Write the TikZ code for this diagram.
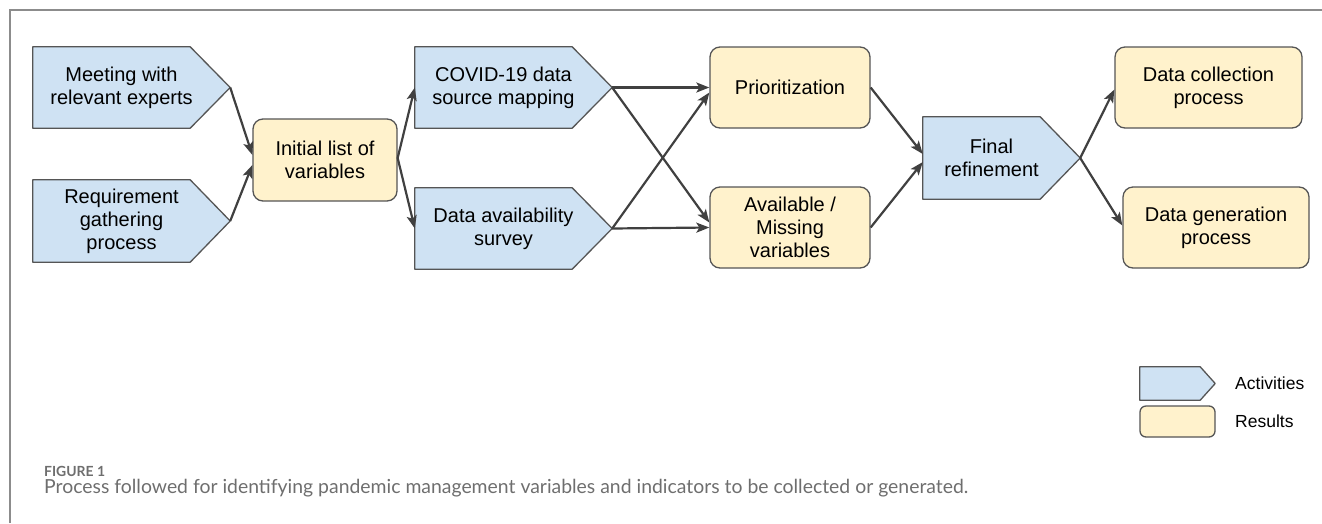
\documentclass[tikz,border=0pt]{standalone}
\usepackage{fontspec}
\usepackage{graphicx}
\setmainfont{Liberation Sans}
\newfontfamily\capfont{Lato}
\usetikzlibrary{arrows.meta}
\definecolor{actfill}{HTML}{CFE2F3}
\definecolor{resfill}{HTML}{FFF2CC}
\definecolor{edgec}{HTML}{555555}
\definecolor{arrowc}{HTML}{404040}
\definecolor{framec}{HTML}{8C8C8C}
\definecolor{capc}{HTML}{6E6E6E}
\tikzset{
  boxtext/.style={font=\fontsize{20}{23}\selectfont, text=black, align=center, inner sep=0pt},
  actarea/.style={rectangle, inner sep=0pt, minimum height=81pt},
  actshape/.style={draw=edgec, fill=actfill, line width=1.3pt, line join=round},
  res/.style={boxtext, rectangle, rounded corners=10pt, draw=edgec,
    fill=resfill, line width=1.3pt, minimum height=81pt},
  flow/.style={draw=arrowc, line width=2.2pt,
    -{Stealth[length=13pt,width=10pt,inset=3pt]}},
  legtext/.style={font=\fontsize{17.5}{20}\selectfont, anchor=west, inner sep=0pt},
  captext/.style={anchor=base west, inner sep=0pt, text=capc}
}
% activity: name, centre, width, height, pointer length, text
\newcommand\activity[6]{%
  \node[actarea, minimum width=#3, minimum height=#4] (#1) at (#2) {};
  \draw[actshape] (#1.north west) -- ([xshift=-#5]#1.north east) -- (#1.east)
    -- ([xshift=-#5]#1.south east) -- (#1.south west) -- cycle;
  \node[boxtext] (#1-text) at ([xshift=-10pt]#1.center) {#6};
}
\begin{document}
\begin{tikzpicture}[x=1pt,y=-1pt]
\useasboundingbox (0,0) rectangle (1322,523);
% frame
\draw[framec, line width=1.5pt] (10,523) -- (10,10) -- (1322,10);

% activities and results
\activity{meet}{131.5,87.5}{197pt}{81pt}{40pt}{Meeting with\\relevant experts}
\activity{req}{131.5,221}{197pt}{82pt}{40pt}{Requirement\\gathering\\process}
\node[res, minimum width=144pt, minimum height=82pt] (init) at (325,160) {Initial list of\\variables};
\activity{covid}{513.5,87.5}{197pt}{81pt}{40pt}{COVID-19 data\\source mapping}
\activity{avail}{513.5,228.5}{197pt}{81pt}{40pt}{Data availability\\survey}
\node[res, minimum width=160pt] (prio) at (790,87.5) {Prioritization};
\node[res, minimum width=160pt] (miss) at (790,227.5) {Available /\\Missing\\variables};
\activity{final}{1001.5,158}{157pt}{82pt}{40pt}{Final\\refinement}
\node[res, minimum width=187pt] (coll) at (1208.5,87.5) {Data collection\\process};
\node[res, minimum width=186pt] (gen)  at (1216,227.5) {Data generation\\process};

% connectors
\draw[flow] (meet.east) -- ([yshift=5pt]init.west);
\draw[flow] (req.east) -- ([yshift=-5pt]init.west);
\draw[flow] ([yshift=2pt]init.east) -- (covid.west);
\draw[flow] ([yshift=2pt]init.east) -- (avail.west);
\draw[flow] (covid.east) -- (prio.west);
\draw[flow] (covid.east) -- ([yshift=5pt]miss.west);
\draw[flow] (avail.east) -- ([yshift=-5pt]prio.west);
\draw[flow] (avail.east) -- (miss.west);
\draw[flow] (prio.east) -- ([yshift=4pt]final.west);
\draw[flow] (miss.east) -- ([yshift=-4pt]final.west);
\draw[flow] (final.east) -- ([yshift=-2pt]coll.west);
\draw[flow] (final.east) -- ([yshift=2pt]gen.west);

% legend
\activity{legact}{1177.5,383.5}{75pt}{33pt}{15pt}{}
\node[res, rounded corners=6pt, minimum width=75pt, minimum height=31pt] (legres) at (1177.5,421.5) {};
\node[legtext] (legacttxt) at (1235,383.5) {Activities};
\node[legtext] (legrestxt) at (1235,421.5) {Results};

% caption
\node[captext] (figlabel) at (44,476)
  {\resizebox{61pt}{!}{\capfont\bfseries FIGURE 1}};
\node[captext] (caption) at (44,493)
  {\resizebox{924pt}{!}{\capfont Process followed for identifying pandemic management variables and indicators to be collected or generated.}};
\end{tikzpicture}
\end{document}
